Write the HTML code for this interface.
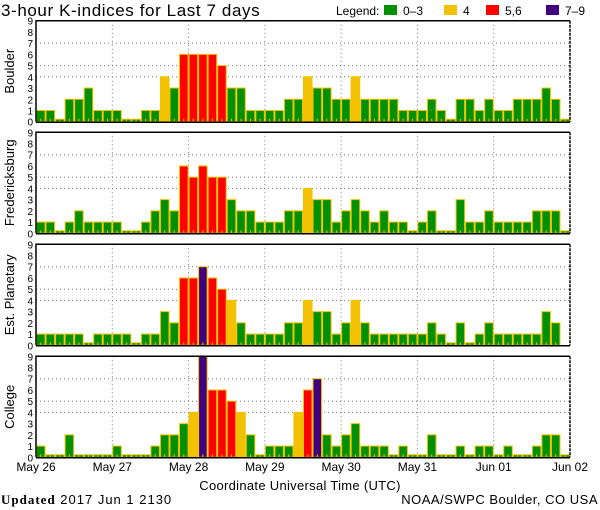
<!DOCTYPE html>
<html><head><meta charset="utf-8"><style>
body{margin:0;background:#fff;width:600px;height:510px;overflow:hidden}
svg{display:block;font-family:"Liberation Sans",sans-serif}
</style></head><body>
<svg id="c" width="600" height="510">
<text x="1" y="16" font-size="17" letter-spacing="0.6" fill="#000">3-hour K-indices for Last 7 days</text>
<g font-size="12">
<text x="336" y="15">Legend:</text>
<rect x="384" y="5" width="13" height="10" fill="#009000"/>
<text x="403" y="15">0–3</text>
<rect x="444" y="5" width="13" height="10" fill="#f2c200"/>
<text x="463" y="15">4</text>
<rect x="486" y="5" width="13" height="10" fill="#ff0000"/>
<text x="505" y="15">5,6</text>
<rect x="546" y="5" width="13" height="10" fill="#400080"/>
<text x="565" y="15">7–9</text>
</g>
<text x="300" y="490" font-size="13" letter-spacing="0.3" text-anchor="middle">Coordinate Universal Time (UTC)</text>
<text x="1" y="504" font-size="13" letter-spacing="1"><tspan font-family="Liberation Serif,serif" font-weight="bold">Updated</tspan> 2017 Jun  1 2130</text>
<text x="598" y="504" font-size="13" letter-spacing="0.5" text-anchor="end">NOAA/SWPC Boulder, CO USA</text>
</svg>
<script>
const stations = ["Boulder","Fredericksburg","Est. Planetary","College"];
const boulder = [1,1,0,2,2,3,1,1, 1,0,0,1,1,4,3,6, 6,6,6,5,3,3,1,1, 1,1,2,2,4,3,3,2, 2,4,2,2,2,2,1,1, 1,2,1,0,2,2,1,2, 1,1,2,2,2,3,2,0];
const fredericksburg = [1,1,0,1,2,1,1,1, 1,0,0,1,2,3,2,6, 5,6,5,5,3,2,2,1, 1,1,2,2,4,3,3,1, 2,3,2,1,2,1,1,0, 1,2,0,0,3,1,1,2, 1,1,1,1,2,2,2,0];
const planetary = [1,1,1,1,1,0,1,1, 1,1,0,1,1,3,2,6, 6,7,6,5,4,2,1,1, 1,1,2,2,4,3,3,1, 2,4,2,1,1,1,1,1, 1,2,1,0,2,0,1,2, 1,1,1,1,1,3,2,null];
const college = [1,0,0,2,0,0,0,0, 1,0,0,0,1,2,2,3, 4,9,6,6,5,4,2,0, 1,1,1,4,6,7,2,1, 2,3,1,1,1,0,1,0, 0,2,0,0,1,0,1,1, 0,1,0,0,1,2,2,0];
const dayLabels = ["May 26","May 27","May 28","May 29","May 30","May 31","Jun 01","Jun 02"];
const yTicks = [0,1,2,3,4,5,6,7,8,9];
const gridLevels = [4,5,7];
const series = [boulder,fredericksburg,planetary,college];

const NS="http://www.w3.org/2000/svg";
const svg=document.getElementById('c');
const X0=36, X1=570, N=56;
const tops=[20.7,132.3,244.3,356.3], H=101;
const bw=(X1-X0)/N;
function xs(i){return X0+i*bw;}
function color(v){return v>=7?"#400080":v>=5?"#ff0000":v===4?"#f2c200":"#009000";}
function mk(tag,attrs,parent){const e=document.createElementNS(NS,tag);for(const k in attrs)e.setAttribute(k,attrs[k]);(parent||svg).appendChild(e);return e;}

series.forEach((data,p)=>{
  const top=tops[p], zero=top+H;
  const ys=v=>zero-v*H/9;
  const g=mk('g',{});
  
  
  gridLevels.forEach(l=>{
    const ln=mk('line',{x1:X0,x2:X1,y1:ys(l),y2:ys(l),stroke:'#777','stroke-dasharray':'1,3'},g);
    
    
  });
  for(let d=1;d<7;d++){
    const ln=mk('line',{x1:xs(d*8),x2:xs(d*8),y1:top,y2:zero,stroke:'#777','stroke-dasharray':'1,3'},g);
    
    
  }
  data.forEach((v,i)=>{
    if(v===null) return;
    const h=Math.max(v*H/9,2.5);
    const r=mk('rect',{x:xs(i)+0.5,y:zero-h,width:bw-1,height:h,fill:color(v),stroke:'#f2c200','stroke-width':1},g);
    
    
    const t=mk('rect',{x:xs(i)+bw/2-0.5,y:zero-3,width:1,height:3,fill:'#f2c200'},g);
    
    
  });
  const ax=mk('path',{d:`M${X0},${zero} L${X0},${top} L${X1},${top}`,stroke:'#000','stroke-width':1.5,fill:'none'},g);
  
  
  const rb=mk('line',{x1:X1,x2:X1,y1:top,y2:zero,stroke:'#000','stroke-width':1.5,'stroke-dasharray':'3,1'},g);
  
  
  const bl=mk('line',{x1:X0,x2:X1,y1:zero+0.5,y2:zero+0.5,stroke:'#000','stroke-width':1.5},g);
  
  
  yTicks.forEach(t=>{
    const tx=mk('text',{x:33,y:ys(t)+4,'font-size':10,'text-anchor':'end'},g);
    tx.textContent=t;
    
    
  });
  const yl=mk('text',{x:0,y:0,'font-size':13,'text-anchor':'middle',transform:`translate(14,${top+H/2}) rotate(-90)`},g);
  yl.textContent=stations[p];
  
  
});
dayLabels.forEach((d,i)=>{
  const t=mk('text',{x:xs(i*8),y:471,'font-size':12,'text-anchor':'middle'});
  t.textContent=d;
  
  
});
</script>
</body></html>
